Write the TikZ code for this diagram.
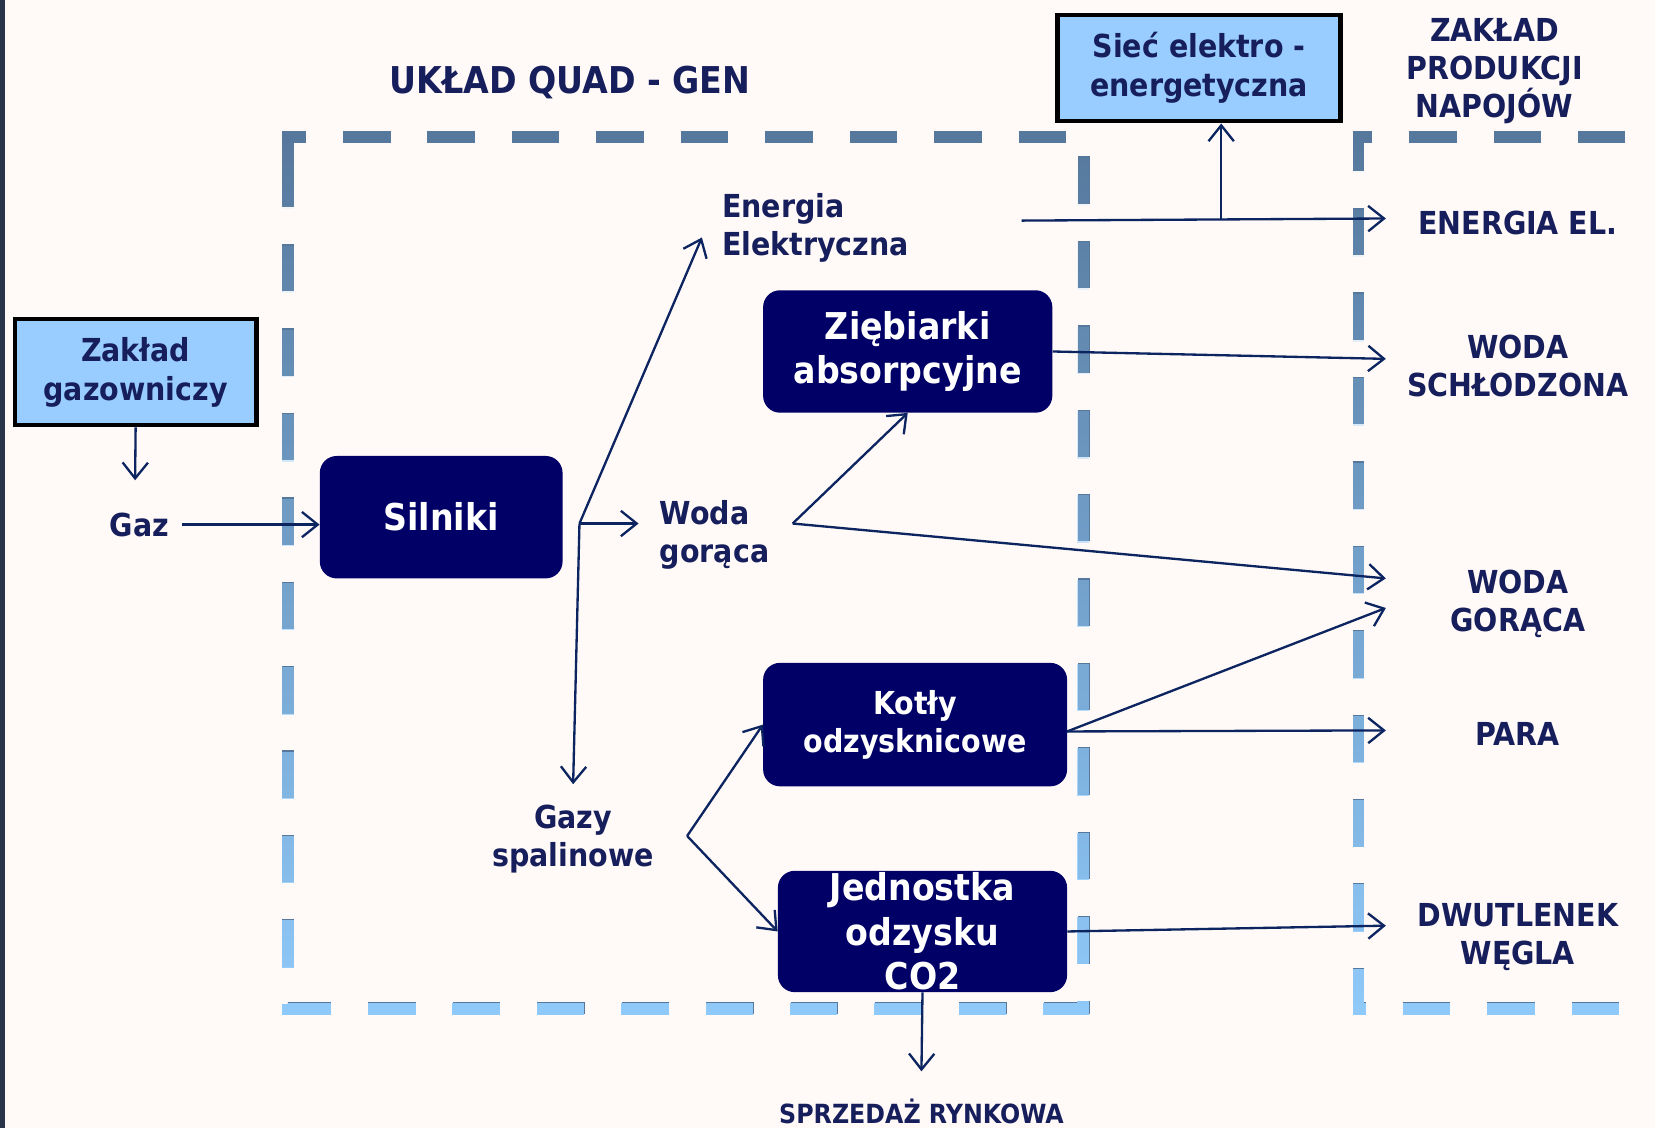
\documentclass[tikz,border=0pt]{standalone}
\usepackage{fontspec}
\setmainfont{DejaVu Sans Condensed}
\usetikzlibrary{positioning,arrows.meta,fadings}
\definecolor{paper}{RGB}{255,250,248}
\definecolor{edgebar}{RGB}{40,52,72}
\definecolor{txtblue}{RGB}{22,30,92}
\definecolor{boxblue}{RGB}{0,0,102}
\definecolor{lightblue}{RGB}{153,204,255}
\definecolor{arrowblue}{RGB}{12,36,96}
\definecolor{frametop}{RGB}{86,120,156}
\definecolor{framebot}{RGB}{144,202,250}
\tikzstyle{unit}=[rectangle,rounded corners=16pt,fill=boxblue,text=white,align=center,inner sep=0pt,font=\fontsize{35}{42}\selectfont\bfseries]
\tikzstyle{smallunit}=[unit,font=\fontsize{30}{36}\selectfont\bfseries]
\tikzstyle{outside}=[rectangle,draw=black,line width=4pt,fill=lightblue,text=txtblue,align=center,inner sep=0pt,font=\fontsize{30}{37}\selectfont\bfseries]
\tikzstyle{flow}=[text=txtblue,align=center,inner sep=3pt,font=\fontsize{30}{36}\selectfont\bfseries]
\tikzstyle{link}=[draw=arrowblue,line width=2.2pt,-{Straight Barb[length=15pt,width=24pt]}]
\tikzstyle{frame}=[line width=11pt,dash pattern=on 45pt off 35pt]

\begin{document}
\begin{tikzpicture}[x=1pt,y=-1pt]
  \fill[paper] (0,0) rectangle (1568,1069);
  \fill[edgebar] (0,0) rectangle (5,1069);
  \useasboundingbox (0,0) rectangle (1568,1069);

  % dashed frames, dark at the top and light at the bottom
  \draw[frame,frametop] (273,158) -- (273,130) -- (1027,130) -- (1027,955) -- (273,955) -- cycle;
  \draw[frame,framebot,path fading=north] (273,158) -- (273,130) -- (1027,130) -- (1027,955) -- (273,955) -- cycle;
  \draw[frame,frametop,dash phase=20pt] (1600,130) -- (1287,130) -- (1287,955) -- (1600,955);
  \draw[frame,framebot,dash phase=20pt,path fading=north] (1600,130) -- (1287,130) -- (1287,955) -- (1600,955);

  \node[flow,font=\fontsize{35}{42}\selectfont\bfseries] (title) at (540,78) {UKŁAD QUAD - GEN};
  \node[flow] (plant) at (1416,67) {ZAKŁAD\\PRODUKCJI\\NAPOJÓW};

  \node[outside,minimum width=229pt,minimum height=101pt] (gasworks) at (128.5,352.5) {Zakład\\gazowniczy};
  \node[outside,minimum width=268pt,minimum height=101pt] (grid) at (1136,64.5) {Sieć elektro -\\energetyczna};

  \node[unit,minimum width=230pt,minimum height=116pt] (engines) at (418,490) {Silniki};
  \node[unit,minimum width=274pt,minimum height=116pt] (chillers) at (860,333) {Ziębiarki\\absorpcyjne};
  \node[smallunit,minimum width=288pt,minimum height=117pt] (boilers) at (867,686.5) {Kotły\\odzysknicowe};
  \node[unit,minimum width=274pt,minimum height=115pt] (cocapture) at (874,882.5) {Jednostka\\odzysku\\CO2};

  \node[flow,inner xsep=12pt] (gaz) at (132,497) {Gaz};
  \node[flow,anchor=west,align=left] (energy) at (681,216) {Energia\\Elektryczna};
  \node[flow,anchor=west,align=left] (hotwater) at (622,507) {Woda\\gorąca};
  \node[flow] (flue) at (543,795) {Gazy\\spalinowe};
  \node[flow,font=\fontsize{25}{30}\selectfont\bfseries] (market) at (873,1053) {SPRZEDAŻ RYNKOWA};

  \foreach \pos / \name / \txt in {{(1438,211)/elout/ENERGIA EL.}, {(1438,347)/coldout/WODA\\SCHŁODZONA},
                                   {(1438,572)/hotout/WODA\\GORĄCA}, {(1438,695)/steamout/PARA},
                                   {(1438,888)/co2out/DWUTLENEK\\WĘGLA}}
    \node[flow] (\name) at \pos {\txt};

  \foreach \pos / \name in {{(549,496)/split}, {(751,496)/hwsplit}, {(651,792)/fgsplit},
                            {(968,209)/elfrom}, {(1157,208)/gridtap}, {(1011,693)/boilout},
                            {(128,455)/toGaz}, {(665,225)/toEnergy}, {(605,496)/toWoda},
                            {(543,743)/toGazy}, {(873,1015)/toMarket}, {(1313,207)/toEl},
                            {(1313,340)/toCold}, {(1313,548)/toHot1}, {(1313,576)/toHot2},
                            {(1313,692)/toSteam}, {(1313,877)/toCo2}}
    \path \pos coordinate (\name);

  % Connect units with flows
  \foreach \source / \dest in {gasworks.south/toGaz, gaz/gaz -| engines.west,
                               split/toEnergy, split/toWoda, split/toGazy,
                               hwsplit/chillers.south, hwsplit/toHot1, chillers.east/toCold,
                               elfrom/toEl, gridtap/gridtap |- grid.south,
                               fgsplit/boilers.west, fgsplit/cocapture.west,
                               boilout/toHot2, boilout/toSteam,
                               cocapture.east/toCo2, cocapture.south/toMarket}
      \path[link] (\source) -- (\dest);
\end{tikzpicture}
\end{document}
